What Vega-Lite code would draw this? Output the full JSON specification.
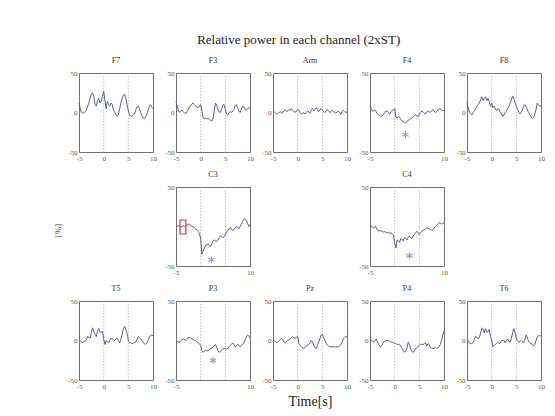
{
"$schema": "https://vega.github.io/schema/vega-lite/v6.json",
"background": "white",
"padding": {"left": 52, "top": 33, "right": 5, "bottom": 5},
"datasets": {
"vl": [{"v": 0}, {"v": 5}],
"stars": [{"ch": "F4", "t": 2.2, "v": -28}, {"ch": "C3", "t": 2.2, "v": -42}, {"ch": "C4", "t": 3.0, "v": -37}, {"ch": "P3", "t": 2.5, "v": -25}],
"box": [{"ch": "C3", "x1": -4.2, "x2": -3.0, "y1": -9.5, "y2": 8.2}],
"blank": [{"k": 1}],
"sig": [
{"t":-5,"F7":12,"F3":14,"Arm":0,"F4":9,"F8":12,"C3":0,"C4":2,"T5":2,"P3":0,"Pz":2,"P4":2,"T6":2},
{"t":-4.75,"F7":5,"F3":8,"Arm":1,"F4":5,"F8":6,"C3":0,"C4":1,"T5":0,"P3":-1,"Pz":0,"P4":0,"T6":0},
{"t":-4.5,"F7":0,"F3":2,"Arm":-1,"F4":2,"F8":0,"C3":1,"C4":-1,"T5":-2,"P3":-2,"Pz":-2,"P4":-1,"T6":-3},
{"t":-4.25,"F7":-1,"F3":0,"Arm":-2,"F4":2,"F8":-2,"C3":0,"C4":-2,"T5":-3,"P3":-2,"Pz":-3,"P4":-2,"T6":-4},
{"t":-4,"F7":0,"F3":2,"Arm":-1,"F4":3,"F8":-3,"C3":-1,"C4":0,"T5":-1,"P3":0,"Pz":-2,"P4":0,"T6":-4},
{"t":-3.75,"F7":1,"F3":3,"Arm":0,"F4":1,"F8":0,"C3":0,"C4":-1,"T5":-1,"P3":1,"Pz":0,"P4":2,"T6":-2},
{"t":-3.5,"F7":3,"F3":1,"Arm":1,"F4":-2,"F8":2,"C3":1,"C4":-4,"T5":1,"P3":2,"Pz":1,"P4":-2,"T6":1},
{"t":-3.25,"F7":8,"F3":-1,"Arm":-1,"F4":-3,"F8":5,"C3":0,"C4":-6,"T5":5,"P3":1,"Pz":3,"P4":-5,"T6":5},
{"t":-3,"F7":12,"F3":-1,"Arm":0,"F4":-4,"F8":8,"C3":1,"C4":-5,"T5":4,"P3":0,"Pz":1,"P4":-7,"T6":4},
{"t":-2.75,"F7":18,"F3":1,"Arm":2,"F4":-5,"F8":10,"C3":2,"C4":-6,"T5":3,"P3":1,"Pz":-2,"P4":-8,"T6":2},
{"t":-2.5,"F7":23,"F3":4,"Arm":3,"F4":-4,"F8":12,"C3":3,"C4":-6,"T5":10,"P3":4,"Pz":-3,"P4":-5,"T6":4},
{"t":-2.25,"F7":25,"F3":7,"Arm":1,"F4":-2,"F8":16,"C3":3,"C4":-7,"T5":16,"P3":4,"Pz":-1,"P4":-2,"T6":9},
{"t":-2,"F7":20,"F3":9,"Arm":2,"F4":0,"F8":20,"C3":1,"C4":-6,"T5":12,"P3":3,"Pz":0,"P4":-1,"T6":16},
{"t":-1.75,"F7":10,"F3":11,"Arm":4,"F4":2,"F8":15,"C3":0,"C4":-8,"T5":8,"P3":2,"Pz":1,"P4":0,"T6":14},
{"t":-1.5,"F7":8,"F3":12,"Arm":3,"F4":2,"F8":18,"C3":0,"C4":-8,"T5":5,"P3":1,"Pz":2,"P4":0,"T6":10},
{"t":-1.25,"F7":15,"F3":10,"Arm":5,"F4":0,"F8":20,"C3":-2,"C4":-7,"T5":12,"P3":0,"Pz":4,"P4":0,"T6":15},
{"t":-1,"F7":18,"F3":8,"Arm":3,"F4":-2,"F8":15,"C3":-3,"C4":-9,"T5":15,"P3":0,"Pz":5,"P4":-1,"T6":11},
{"t":-0.75,"F7":12,"F3":7,"Arm":1,"F4":1,"F8":18,"C3":-4,"C4":-8,"T5":11,"P3":-2,"Pz":3,"P4":-2,"T6":11},
{"t":-0.5,"F7":14,"F3":6,"Arm":0,"F4":3,"F8":14,"C3":-6,"C4":-9,"T5":10,"P3":-3,"Pz":3,"P4":-2,"T6":14},
{"t":-0.25,"F7":20,"F3":8,"Arm":2,"F4":3,"F8":8,"C3":-9,"C4":-11,"T5":12,"P3":-4,"Pz":4,"P4":-3,"T6":5},
{"t":0,"F7":27,"F3":10,"Arm":4,"F4":5,"F8":12,"C3":-15,"C4":-20,"T5":2,"P3":-6,"Pz":5,"P4":-3,"T6":1},
{"t":0.25,"F7":15,"F3":2,"Arm":3,"F4":-6,"F8":6,"C3":-35,"C4":-27,"T5":-5,"P3":-13,"Pz":-4,"P4":-4,"T6":-8},
{"t":0.5,"F7":5,"F3":-7,"Arm":0,"F4":-7,"F8":8,"C3":-31,"C4":-17,"T5":0,"P3":-15,"Pz":-6,"P4":-5,"T6":-6},
{"t":0.75,"F7":14,"F3":-8,"Arm":-2,"F4":-5,"F8":4,"C3":-27,"C4":-18,"T5":-2,"P3":-13,"Pz":-8,"P4":-5,"T6":-5},
{"t":1,"F7":10,"F3":-7,"Arm":-1,"F4":-6,"F8":2,"C3":-24,"C4":-20,"T5":-3,"P3":-12,"Pz":-9,"P4":-5,"T6":-4},
{"t":1.25,"F7":8,"F3":-8,"Arm":0,"F4":-9,"F8":5,"C3":-23,"C4":-15,"T5":0,"P3":-13,"Pz":-10,"P4":-7,"T6":-2},
{"t":1.5,"F7":12,"F3":-7,"Arm":-2,"F4":-11,"F8":4,"C3":-22,"C4":-17,"T5":3,"P3":-13,"Pz":-9,"P4":-10,"T6":-4},
{"t":1.75,"F7":10,"F3":-9,"Arm":0,"F4":-12,"F8":0,"C3":-24,"C4":-18,"T5":2,"P3":-12,"Pz":-7,"P4":-13,"T6":-3},
{"t":2,"F7":3,"F3":-10,"Arm":2,"F4":-13,"F8":-2,"C3":-25,"C4":-14,"T5":1,"P3":-10,"Pz":-6,"P4":-15,"T6":0},
{"t":2.25,"F7":0,"F3":-11,"Arm":1,"F4":-13,"F8":-5,"C3":-22,"C4":-15,"T5":0,"P3":-10,"Pz":-5,"P4":-13,"T6":0},
{"t":2.5,"F7":-3,"F3":-8,"Arm":-1,"F4":-11,"F8":-3,"C3":-19,"C4":-17,"T5":2,"P3":-8,"Pz":-3,"P4":-10,"T6":0},
{"t":2.75,"F7":-5,"F3":2,"Arm":3,"F4":-10,"F8":0,"C3":-17,"C4":-14,"T5":3,"P3":-7,"Pz":0,"P4":-2,"T6":-3},
{"t":3,"F7":-2,"F3":12,"Arm":5,"F4":-9,"F8":2,"C3":-18,"C4":-12,"T5":0,"P3":-5,"Pz":-2,"P4":-5,"T6":0},
{"t":3.25,"F7":5,"F3":9,"Arm":2,"F4":-8,"F8":5,"C3":-19,"C4":-14,"T5":-3,"P3":-9,"Pz":-6,"P4":-11,"T6":2},
{"t":3.5,"F7":12,"F3":4,"Arm":4,"F4":-7,"F8":8,"C3":-17,"C4":-15,"T5":2,"P3":-13,"Pz":-9,"P4":-14,"T6":-1},
{"t":3.75,"F7":18,"F3":1,"Arm":6,"F4":-6,"F8":12,"C3":-14,"C4":-12,"T5":8,"P3":-15,"Pz":-10,"P4":-15,"T6":-2},
{"t":4,"F7":22,"F3":0,"Arm":4,"F4":-4,"F8":16,"C3":-12,"C4":-10,"T5":15,"P3":-14,"Pz":-6,"P4":-13,"T6":3},
{"t":4.25,"F7":23,"F3":4,"Arm":1,"F4":-3,"F8":21,"C3":-13,"C4":-8,"T5":18,"P3":-12,"Pz":-2,"P4":-10,"T6":10},
{"t":4.5,"F7":18,"F3":9,"Arm":3,"F4":-4,"F8":18,"C3":-14,"C4":-6,"T5":14,"P3":-11,"Pz":2,"P4":-9,"T6":15},
{"t":4.75,"F7":10,"F3":10,"Arm":5,"F4":-5,"F8":12,"C3":-13,"C4":-8,"T5":9,"P3":-10,"Pz":7,"P4":-8,"T6":10},
{"t":5,"F7":2,"F3":4,"Arm":3,"F4":-2,"F8":8,"C3":-10,"C4":-10,"T5":0,"P3":-10,"Pz":8,"P4":-6,"T6":3},
{"t":5.25,"F7":-3,"F3":-2,"Arm":1,"F4":0,"F8":4,"C3":-7,"C4":-8,"T5":-3,"P3":-11,"Pz":4,"P4":-5,"T6":0},
{"t":5.5,"F7":-5,"F3":-3,"Arm":0,"F4":2,"F8":0,"C3":-5,"C4":-6,"T5":-3,"P3":-10,"Pz":0,"P4":-5,"T6":-2},
{"t":5.75,"F7":-4,"F3":0,"Arm":2,"F4":1,"F8":-2,"C3":-3,"C4":-5,"T5":-4,"P3":-8,"Pz":-3,"P4":-5,"T6":-1},
{"t":6,"F7":-3,"F3":1,"Arm":4,"F4":-1,"F8":0,"C3":-2,"C4":-4,"T5":-3,"P3":-6,"Pz":-6,"P4":-4,"T6":0},
{"t":6.25,"F7":-2,"F3":0,"Arm":2,"F4":-2,"F8":4,"C3":-3,"C4":-3,"T5":-3,"P3":-5,"Pz":-7,"P4":-3,"T6":-1},
{"t":6.5,"F7":3,"F3":2,"Arm":0,"F4":1,"F8":8,"C3":-5,"C4":-2,"T5":-2,"P3":-3,"Pz":-8,"P4":-7,"T6":-3},
{"t":6.75,"F7":7,"F3":4,"Arm":1,"F4":2,"F8":10,"C3":-4,"C4":-2,"T5":1,"P3":-5,"Pz":-8,"P4":-4,"T6":2},
{"t":7,"F7":8,"F3":9,"Arm":3,"F4":1,"F8":7,"C3":-2,"C4":-3,"T5":5,"P3":-8,"Pz":-8,"P4":-5,"T6":7},
{"t":7.25,"F7":5,"F3":10,"Arm":2,"F4":0,"F8":3,"C3":0,"C4":-4,"T5":4,"P3":-7,"Pz":-8,"P4":-9,"T6":3},
{"t":7.5,"F7":0,"F3":6,"Arm":0,"F4":2,"F8":0,"C3":-1,"C4":-5,"T5":2,"P3":-5,"Pz":-8,"P4":-10,"T6":-1},
{"t":7.75,"F7":-4,"F3":2,"Arm":-1,"F4":4,"F8":-3,"C3":-3,"C4":-4,"T5":0,"P3":-6,"Pz":-8,"P4":-10,"T6":-3},
{"t":8,"F7":-7,"F3":0,"Arm":1,"F4":2,"F8":-6,"C3":0,"C4":-2,"T5":-2,"P3":-8,"Pz":-8,"P4":-10,"T6":-4},
{"t":8.25,"F7":-8,"F3":4,"Arm":2,"F4":0,"F8":-8,"C3":3,"C4":0,"T5":-4,"P3":-7,"Pz":-8,"P4":-9,"T6":-5},
{"t":8.5,"F7":-6,"F3":8,"Arm":0,"F4":1,"F8":-6,"C3":6,"C4":1,"T5":-5,"P3":-5,"Pz":-7,"P4":-10,"T6":-7},
{"t":8.75,"F7":-2,"F3":7,"Arm":-2,"F4":3,"F8":-2,"C3":9,"C4":3,"T5":-3,"P3":-3,"Pz":-5,"P4":-9,"T6":-5},
{"t":9,"F7":3,"F3":4,"Arm":1,"F4":4,"F8":4,"C3":10,"C4":5,"T5":0,"P3":1,"Pz":-2,"P4":-8,"T6":0},
{"t":9.25,"F7":8,"F3":3,"Arm":3,"F4":5,"F8":12,"C3":8,"C4":4,"T5":4,"P3":4,"Pz":2,"P4":-5,"T6":5},
{"t":9.5,"F7":10,"F3":5,"Arm":1,"F4":3,"F8":10,"C3":4,"C4":3,"T5":7,"P3":7,"Pz":4,"P4":0,"T6":6},
{"t":9.75,"F7":7,"F3":6,"Arm":0,"F4":2,"F8":8,"C3":0,"C4":4,"T5":7,"P3":6,"Pz":5,"P4":7,"T6":6},
{"t":10,"F7":5,"F3":5,"Arm":1,"F4":3,"F8":8,"C3":3,"C4":5,"T5":6,"P3":3,"Pz":4,"P4":12,"T6":6}
]
},
"title": {"text": "Relative power in each channel (2xST)", "fontSize": 13, "font": "Liberation Serif", "fontWeight": "normal", "color": "#222", "offset": 10, "anchor": "middle"},
"bounds": "flush",
"columns": 5,
"spacing": {"row": 35, "column": 23},
"concat": [
{"width": 74, "height": 79, "title": "F7", "layer": [
 {"data": {"name": "vl"}, "mark": {"type": "rule", "color": "#b0b0b0", "strokeDash": [1.5, 1.5], "strokeWidth": 0.8}, "encoding": {"x": {"field": "v", "type": "quantitative", "scale": {"domain": [-5, 10], "nice": false}, "axis": {"values": [-5, 0, 5, 10], "title": null}}}},
 {"data": {"name": "sig"}, "mark": {"type": "line", "color": "#5c5ca0", "strokeWidth": 1}, "encoding": {"x": {"field": "t", "type": "quantitative", "scale": {"domain": [-5, 10], "nice": false}, "axis": {"values": [-5, 0, 5, 10], "title": null}}, "y": {"field": "F7", "type": "quantitative", "scale": {"domain": [-50, 50], "nice": false}, "axis": {"values": [-50, 0, 50], "title": null}}}}
]},
{"width": 74, "height": 79, "title": "F3", "layer": [
 {"data": {"name": "vl"}, "mark": {"type": "rule", "color": "#b0b0b0", "strokeDash": [1.5, 1.5], "strokeWidth": 0.8}, "encoding": {"x": {"field": "v", "type": "quantitative", "scale": {"domain": [-5, 10], "nice": false}, "axis": {"values": [-5, 0, 5, 10], "title": null}}}},
 {"data": {"name": "sig"}, "mark": {"type": "line", "color": "#5c5ca0", "strokeWidth": 1}, "encoding": {"x": {"field": "t", "type": "quantitative", "scale": {"domain": [-5, 10], "nice": false}, "axis": {"values": [-5, 0, 5, 10], "title": null}}, "y": {"field": "F3", "type": "quantitative", "scale": {"domain": [-50, 50], "nice": false}, "axis": {"values": [-50, 0, 50], "title": null}}}}
]},
{"width": 74, "height": 79, "title": "Arm", "layer": [
 {"data": {"name": "vl"}, "mark": {"type": "rule", "color": "#b0b0b0", "strokeDash": [1.5, 1.5], "strokeWidth": 0.8}, "encoding": {"x": {"field": "v", "type": "quantitative", "scale": {"domain": [-5, 10], "nice": false}, "axis": {"values": [-5, 0, 5, 10], "title": null}}}},
 {"data": {"name": "sig"}, "mark": {"type": "line", "color": "#5c5ca0", "strokeWidth": 1}, "encoding": {"x": {"field": "t", "type": "quantitative", "scale": {"domain": [-5, 10], "nice": false}, "axis": {"values": [-5, 0, 5, 10], "title": null}}, "y": {"field": "Arm", "type": "quantitative", "scale": {"domain": [-50, 50], "nice": false}, "axis": {"values": [-50, 0, 50], "title": null}}}}
]},
{"width": 74, "height": 79, "title": "F4", "layer": [
 {"data": {"name": "vl"}, "mark": {"type": "rule", "color": "#b0b0b0", "strokeDash": [1.5, 1.5], "strokeWidth": 0.8}, "encoding": {"x": {"field": "v", "type": "quantitative", "scale": {"domain": [-5, 10], "nice": false}, "axis": {"values": [-5, 0, 5, 10], "title": null}}}},
 {"data": {"name": "sig"}, "mark": {"type": "line", "color": "#5c5ca0", "strokeWidth": 1}, "encoding": {"x": {"field": "t", "type": "quantitative", "scale": {"domain": [-5, 10], "nice": false}, "axis": {"values": [-5, 0, 5, 10], "title": null}}, "y": {"field": "F4", "type": "quantitative", "scale": {"domain": [-50, 50], "nice": false}, "axis": {"values": [-50, 0, 50], "title": null}}}},
 {"data": {"name": "stars"}, "transform": [{"filter": {"field": "ch", "equal": "F4"}}], "mark": {"type": "point", "shape": "M0,-1L0,1M-0.87,-0.5L0.87,0.5M-0.87,0.5L0.87,-0.5", "stroke": "#7a68a8", "strokeWidth": 1.1, "size": 50, "filled": false}, "encoding": {"x": {"field": "t", "type": "quantitative"}, "y": {"field": "v", "type": "quantitative"}}}
]},
{"width": 74, "height": 79, "title": "F8", "layer": [
 {"data": {"name": "vl"}, "mark": {"type": "rule", "color": "#b0b0b0", "strokeDash": [1.5, 1.5], "strokeWidth": 0.8}, "encoding": {"x": {"field": "v", "type": "quantitative", "scale": {"domain": [-5, 10], "nice": false}, "axis": {"values": [-5, 0, 5, 10], "title": null}}}},
 {"data": {"name": "sig"}, "mark": {"type": "line", "color": "#5c5ca0", "strokeWidth": 1}, "encoding": {"x": {"field": "t", "type": "quantitative", "scale": {"domain": [-5, 10], "nice": false}, "axis": {"values": [-5, 0, 5, 10], "title": null}}, "y": {"field": "F8", "type": "quantitative", "scale": {"domain": [-50, 50], "nice": false}, "axis": {"values": [-50, 0, 50], "title": null}}}}
]},
{"width": 74, "height": 79, "view": {"stroke": null}, "data": {"name": "blank"}, "mark": {"type": "point", "opacity": 0}, "encoding": {}},
{"width": 74, "height": 79, "title": "C3", "layer": [
 {"data": {"name": "vl"}, "mark": {"type": "rule", "color": "#b0b0b0", "strokeDash": [1.5, 1.5], "strokeWidth": 0.8}, "encoding": {"x": {"field": "v", "type": "quantitative", "scale": {"domain": [-5, 10], "nice": false}, "axis": {"values": [-5, 0, 5, 10], "title": null}}}},
 {"data": {"name": "sig"}, "mark": {"type": "line", "color": "#5c5ca0", "strokeWidth": 1}, "encoding": {"x": {"field": "t", "type": "quantitative", "scale": {"domain": [-5, 10], "nice": false}, "axis": {"values": [-5, 0, 5, 10], "title": null}}, "y": {"field": "C3", "type": "quantitative", "scale": {"domain": [-50, 50], "nice": false}, "axis": {"values": [-50, 0, 50], "title": "[%]", "titleX": -114, "titleY": 43, "titleFontSize": 9, "titleFontWeight": "normal", "titleColor": "#444", "titleFont": "Liberation Serif"}}}},
 {"data": {"name": "box"}, "mark": {"type": "rect", "fill": "white", "fillOpacity": 0, "stroke": "#e03030", "strokeWidth": 1.2}, "encoding": {"x": {"field": "x1", "type": "quantitative"}, "x2": {"field": "x2"}, "y": {"field": "y1", "type": "quantitative"}, "y2": {"field": "y2"}}},
 {"data": {"name": "stars"}, "transform": [{"filter": {"field": "ch", "equal": "C3"}}], "mark": {"type": "point", "shape": "M0,-1L0,1M-0.87,-0.5L0.87,0.5M-0.87,0.5L0.87,-0.5", "stroke": "#7a68a8", "strokeWidth": 1.1, "size": 50, "filled": false}, "encoding": {"x": {"field": "t", "type": "quantitative"}, "y": {"field": "v", "type": "quantitative"}}}
]},
{"width": 74, "height": 79, "view": {"stroke": null}, "data": {"name": "blank"}, "mark": {"type": "point", "opacity": 0}, "encoding": {}},
{"width": 74, "height": 79, "title": "C4", "layer": [
 {"data": {"name": "vl"}, "mark": {"type": "rule", "color": "#b0b0b0", "strokeDash": [1.5, 1.5], "strokeWidth": 0.8}, "encoding": {"x": {"field": "v", "type": "quantitative", "scale": {"domain": [-5, 10], "nice": false}, "axis": {"values": [-5, 0, 5, 10], "title": null}}}},
 {"data": {"name": "sig"}, "mark": {"type": "line", "color": "#5c5ca0", "strokeWidth": 1}, "encoding": {"x": {"field": "t", "type": "quantitative", "scale": {"domain": [-5, 10], "nice": false}, "axis": {"values": [-5, 0, 5, 10], "title": null}}, "y": {"field": "C4", "type": "quantitative", "scale": {"domain": [-50, 50], "nice": false}, "axis": {"values": [-50, 0, 50], "title": null}}}},
 {"data": {"name": "stars"}, "transform": [{"filter": {"field": "ch", "equal": "C4"}}], "mark": {"type": "point", "shape": "M0,-1L0,1M-0.87,-0.5L0.87,0.5M-0.87,0.5L0.87,-0.5", "stroke": "#7a68a8", "strokeWidth": 1.1, "size": 50, "filled": false}, "encoding": {"x": {"field": "t", "type": "quantitative"}, "y": {"field": "v", "type": "quantitative"}}}
]},
{"width": 74, "height": 79, "view": {"stroke": null}, "data": {"name": "blank"}, "mark": {"type": "point", "opacity": 0}, "encoding": {}},
{"width": 74, "height": 79, "title": "T5", "layer": [
 {"data": {"name": "vl"}, "mark": {"type": "rule", "color": "#b0b0b0", "strokeDash": [1.5, 1.5], "strokeWidth": 0.8}, "encoding": {"x": {"field": "v", "type": "quantitative", "scale": {"domain": [-5, 10], "nice": false}, "axis": {"values": [-5, 0, 5, 10], "title": null}}}},
 {"data": {"name": "sig"}, "mark": {"type": "line", "color": "#5c5ca0", "strokeWidth": 1}, "encoding": {"x": {"field": "t", "type": "quantitative", "scale": {"domain": [-5, 10], "nice": false}, "axis": {"values": [-5, 0, 5, 10], "title": null}}, "y": {"field": "T5", "type": "quantitative", "scale": {"domain": [-50, 50], "nice": false}, "axis": {"values": [-50, 0, 50], "title": null}}}}
]},
{"width": 74, "height": 79, "title": "P3", "layer": [
 {"data": {"name": "vl"}, "mark": {"type": "rule", "color": "#b0b0b0", "strokeDash": [1.5, 1.5], "strokeWidth": 0.8}, "encoding": {"x": {"field": "v", "type": "quantitative", "scale": {"domain": [-5, 10], "nice": false}, "axis": {"values": [-5, 0, 5, 10], "title": null}}}},
 {"data": {"name": "sig"}, "mark": {"type": "line", "color": "#5c5ca0", "strokeWidth": 1}, "encoding": {"x": {"field": "t", "type": "quantitative", "scale": {"domain": [-5, 10], "nice": false}, "axis": {"values": [-5, 0, 5, 10], "title": null}}, "y": {"field": "P3", "type": "quantitative", "scale": {"domain": [-50, 50], "nice": false}, "axis": {"values": [-50, 0, 50], "title": null}}}},
 {"data": {"name": "stars"}, "transform": [{"filter": {"field": "ch", "equal": "P3"}}], "mark": {"type": "point", "shape": "M0,-1L0,1M-0.87,-0.5L0.87,0.5M-0.87,0.5L0.87,-0.5", "stroke": "#7a68a8", "strokeWidth": 1.1, "size": 50, "filled": false}, "encoding": {"x": {"field": "t", "type": "quantitative"}, "y": {"field": "v", "type": "quantitative"}}}
]},
{"width": 74, "height": 79, "title": "Pz", "layer": [
 {"data": {"name": "vl"}, "mark": {"type": "rule", "color": "#b0b0b0", "strokeDash": [1.5, 1.5], "strokeWidth": 0.8}, "encoding": {"x": {"field": "v", "type": "quantitative", "scale": {"domain": [-5, 10], "nice": false}, "axis": {"values": [-5, 0, 5, 10], "title": "Time[s]", "titleFontSize": 14, "titleFontWeight": "normal", "titleColor": "#222", "titleFont": "Liberation Serif", "titlePadding": 5}}}},
 {"data": {"name": "sig"}, "mark": {"type": "line", "color": "#5c5ca0", "strokeWidth": 1}, "encoding": {"x": {"field": "t", "type": "quantitative", "scale": {"domain": [-5, 10], "nice": false}, "axis": {"values": [-5, 0, 5, 10], "title": "Time[s]", "titleFontSize": 14, "titleFontWeight": "normal", "titleColor": "#222", "titleFont": "Liberation Serif", "titlePadding": 5}}, "y": {"field": "Pz", "type": "quantitative", "scale": {"domain": [-50, 50], "nice": false}, "axis": {"values": [-50, 0, 50], "title": null}}}}
]},
{"width": 74, "height": 79, "title": "P4", "layer": [
 {"data": {"name": "vl"}, "mark": {"type": "rule", "color": "#b0b0b0", "strokeDash": [1.5, 1.5], "strokeWidth": 0.8}, "encoding": {"x": {"field": "v", "type": "quantitative", "scale": {"domain": [-5, 10], "nice": false}, "axis": {"values": [-5, 0, 5, 10], "title": null}}}},
 {"data": {"name": "sig"}, "mark": {"type": "line", "color": "#5c5ca0", "strokeWidth": 1}, "encoding": {"x": {"field": "t", "type": "quantitative", "scale": {"domain": [-5, 10], "nice": false}, "axis": {"values": [-5, 0, 5, 10], "title": null}}, "y": {"field": "P4", "type": "quantitative", "scale": {"domain": [-50, 50], "nice": false}, "axis": {"values": [-50, 0, 50], "title": null}}}}
]},
{"width": 74, "height": 79, "title": "T6", "layer": [
 {"data": {"name": "vl"}, "mark": {"type": "rule", "color": "#b0b0b0", "strokeDash": [1.5, 1.5], "strokeWidth": 0.8}, "encoding": {"x": {"field": "v", "type": "quantitative", "scale": {"domain": [-5, 10], "nice": false}, "axis": {"values": [-5, 0, 5, 10], "title": null}}}},
 {"data": {"name": "sig"}, "mark": {"type": "line", "color": "#5c5ca0", "strokeWidth": 1}, "encoding": {"x": {"field": "t", "type": "quantitative", "scale": {"domain": [-5, 10], "nice": false}, "axis": {"values": [-5, 0, 5, 10], "title": null}}, "y": {"field": "T6", "type": "quantitative", "scale": {"domain": [-50, 50], "nice": false}, "axis": {"values": [-50, 0, 50], "title": null}}}}
]}
],
"config": {
 "font": "Liberation Serif",
 "view": {"stroke": "#707070", "strokeWidth": 1},
 "axis": {"domain": false, "grid": false, "ticks": false, "labelFontSize": 7, "labelColor": "#555", "labelPadding": 2, "labelFont": "Liberation Serif", "labelFlush": false, "labelOverlap": false, "labelExpr": "'' + datum.value"},
 "title": {"fontSize": 8, "fontWeight": "normal", "font": "Liberation Serif", "color": "#333", "offset": 4}
}
}
